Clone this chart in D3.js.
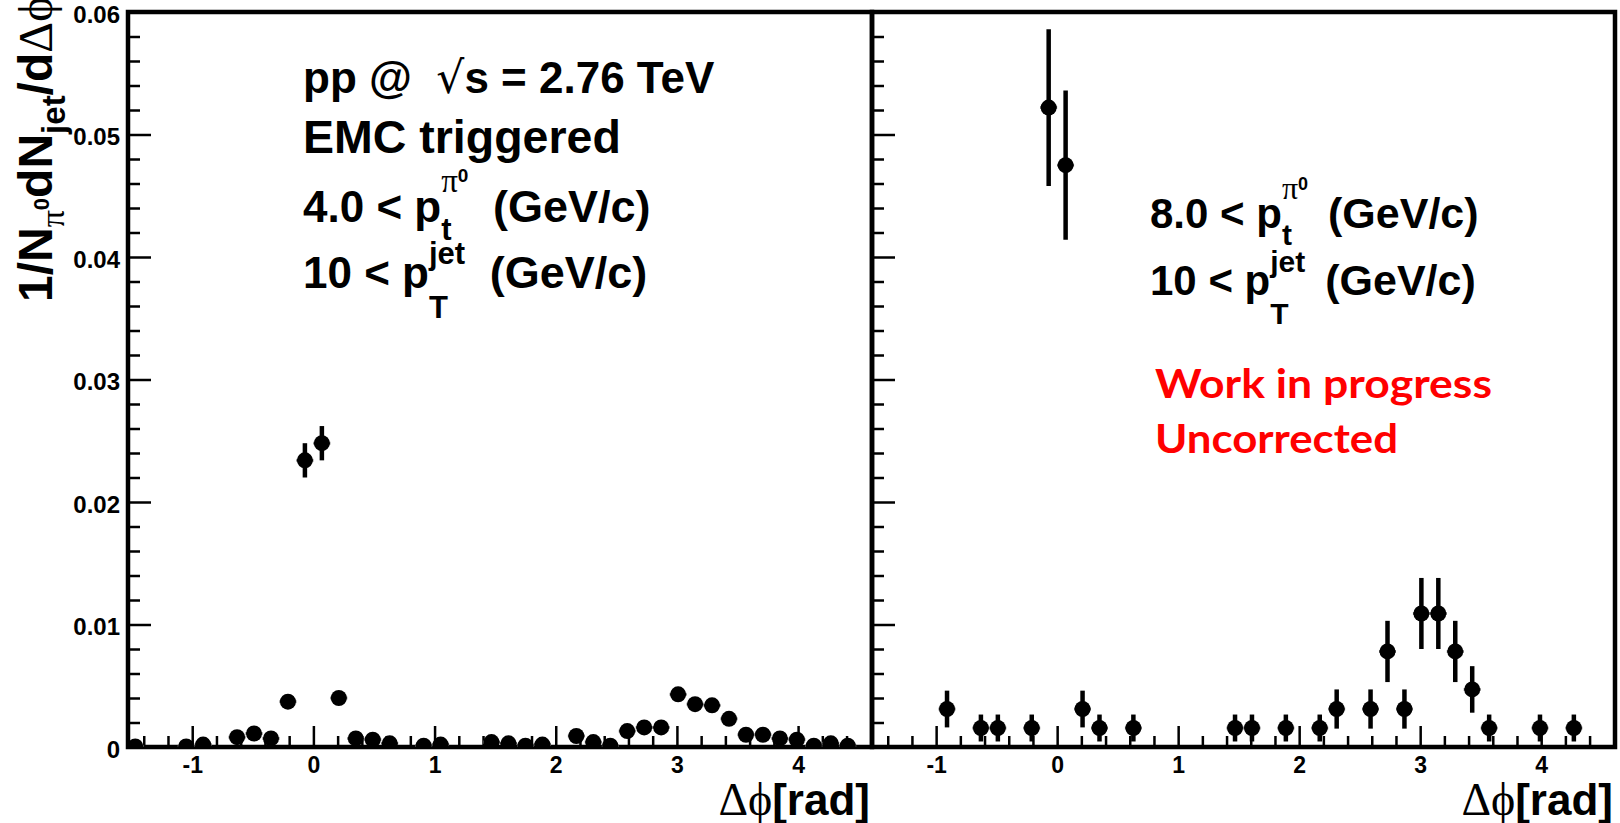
<!DOCTYPE html>
<html>
<head>
<meta charset="utf-8">
<script src="https://cdn.jsdelivr.net/npm/d3@7/dist/d3.min.js"></script>
<style>
  body { margin: 0; background: #fff; }
  svg { display: block; }
</style>
</head>
<body>
<div id="plot"></div>
<script>
// left panel: 4.0 < pt(pi0), EMC triggered
var binLeft = [-1.47, -1.05, -0.91, -0.63, -0.49, -0.35, -0.21, -0.07, 0.07, 0.21, 0.35, 0.49, 0.63,
               0.91, 1.05, 1.47, 1.61, 1.75, 1.89, 2.17, 2.31, 2.45, 2.59, 2.73, 2.87, 3.01, 3.15,
               3.29, 3.43, 3.57, 3.71, 3.85, 3.99, 4.13, 4.27, 4.41];
var valLeft = [0.00005, 0.00005, 0.0002, 0.0008, 0.0011, 0.0007, 0.0037, 0.0234, 0.0248, 0.0040, 0.0007, 0.0006, 0.0003,
               0.0001, 0.0002, 0.0004, 0.0003, 0.0001, 0.0002, 0.0009, 0.0004, 0.0001, 0.0013, 0.0016, 0.0016, 0.0043, 0.0035,
               0.0034, 0.0023, 0.0010, 0.0010, 0.0007, 0.0006, 0.0001, 0.0003, 0.0001];
var errLeft = [0.0001, 0.0001, 0.0002, 0.0003, 0.0004, 0.0003, 0.0004, 0.0014, 0.0014, 0.0004, 0.0003, 0.0003, 0.0002,
               0.0001, 0.0002, 0.0002, 0.0002, 0.0001, 0.0002, 0.0003, 0.0002, 0.0001, 0.0003, 0.0004, 0.0004, 0.0005, 0.0004,
               0.0004, 0.0004, 0.0003, 0.0003, 0.0003, 0.0003, 0.0001, 0.0002, 0.0001];

// right panel: 8.0 < pt(pi0)
var binRight = [-0.91, -0.63, -0.49, -0.21, -0.07, 0.07, 0.21, 0.35, 0.63, 1.47, 1.61, 1.89, 2.17,
                2.31, 2.59, 2.73, 2.87, 3.01, 3.15, 3.29, 3.43, 3.57, 3.99, 4.27];
var valRight = [0.0031, 0.00155, 0.00155, 0.00155, 0.0522, 0.0475, 0.0031, 0.00155, 0.00155, 0.00155, 0.00155, 0.00155, 0.00155,
                0.0031, 0.0031, 0.0078, 0.0031, 0.0109, 0.0109, 0.0078, 0.0047, 0.00155, 0.00155, 0.00155];
var errRight = [0.0015, 0.0011, 0.0011, 0.0011, 0.0064, 0.0061, 0.0015, 0.0011, 0.0011, 0.0011, 0.0011, 0.0011, 0.0011,
                0.0016, 0.0016, 0.0025, 0.0016, 0.0029, 0.0029, 0.0025, 0.0019, 0.0011, 0.0011, 0.0011];

var xTicks = [-1, 0, 1, 2, 3, 4];
var xTickLabels = ["-1", "0", "1", "2", "3", "4"];
var yTicks = [0, 0.01, 0.02, 0.03, 0.04, 0.05, 0.06];
var yTickLabels = ["0", "0.01", "0.02", "0.03", "0.04", "0.05", "0.06"];

var halfBin = 0.0698;
var W = 1620, H = 823;
var frameTop = 12, frameBottom = 747;
var helv = "'Liberation Sans', Arial, Helvetica, sans-serif";
var symb = "'Liberation Serif', 'DejaVu Serif', serif";

var svg = d3.select("#plot").append("svg")
  .attr("width", W)
  .attr("height", H);

var y = d3.scaleLinear().domain([0, 0.06]).range([frameBottom, frameTop]);

// one <text> per line, pieces are tspans placed one after the other
// mark = remember x, stack = start at remembered x (sub under a sup), gap = extra space
function richText(g, x0, y0, parts) {
  var txt = g.append("text").style("white-space", "pre");
  var cx = x0, markX = x0;
  parts.forEach(function(p) {
    if (p.gap) { cx += p.gap; return; }
    var px = p.stack ? markX : cx;
    if (p.mark) markX = px;
    var t = txt.append("tspan")
      .attr("x", px)
      .attr("y", y0 + (p.dy || 0))
      .style("font-family", p.font || helv)
      .style("font-weight", p.weight || "bold")
      .style("font-size", p.size + "px")
      .style("fill", p.color || "#000")
      .text(p.t);
    var w = t.node().getComputedTextLength();
    if (p.stack) cx = Math.max(cx, px + w);
    else cx = px + w;
  });
  return cx - x0;
}

function drawPanel(x0, x1, bins, vals, errs, id, showYLabels) {
  var x = d3.scaleLinear().domain([-1.53, 4.61]).range([x0, x1]);
  var g = svg.append("g");

  svg.append("clipPath").attr("id", id)
    .append("rect")
    .attr("x", x0).attr("y", frameTop)
    .attr("width", x1 - x0).attr("height", frameBottom - frameTop);

  // minor x ticks
  var xMinor = x.ticks(30).filter(function(d) { return Math.abs(d - Math.round(d)) > 1e-6; });
  g.append("g")
    .attr("transform", "translate(0," + frameBottom + ")")
    .call(d3.axisBottom(x).tickValues(xMinor).tickSize(-11).tickFormat(""))
    .call(function(a) { a.select(".domain").remove(); })
    .selectAll("line").style("stroke", "#000").style("stroke-width", 2.5);

  // major x ticks
  var xa = g.append("g")
    .attr("transform", "translate(0," + frameBottom + ")")
    .call(d3.axisBottom(x).tickValues(xTicks).tickSize(-21).tickPadding(10)
      .tickFormat(function(d, i) { return xTickLabels[i]; }))
    .call(function(a) { a.select(".domain").remove(); });
  xa.selectAll("line").style("stroke", "#000").style("stroke-width", 2.5);
  xa.selectAll("text")
    .style("font-family", helv).style("font-weight", "bold")
    .style("font-size", "23px").style("fill", "#000");

  // minor y ticks
  var yMinor = y.ticks(30).filter(function(d) { return Math.abs(d * 100 - Math.round(d * 100)) > 1e-6; });
  g.append("g")
    .attr("transform", "translate(" + x0 + ",0)")
    .call(d3.axisLeft(y).tickValues(yMinor).tickSize(-12).tickFormat(""))
    .call(function(a) { a.select(".domain").remove(); })
    .selectAll("line").style("stroke", "#000").style("stroke-width", 2.5);

  // major y ticks
  var ya = g.append("g")
    .attr("transform", "translate(" + x0 + ",0)")
    .call(d3.axisLeft(y).tickValues(yTicks).tickSize(-23).tickPadding(8)
      .tickFormat(function(d, i) { return showYLabels ? yTickLabels[i] : ""; }))
    .call(function(a) { a.select(".domain").remove(); });
  ya.selectAll("line").style("stroke", "#000").style("stroke-width", 2.5);
  ya.selectAll("text")
    .attr("dy", "0.42em")
    .style("font-family", helv).style("font-weight", "bold")
    .style("font-size", "24px").style("fill", "#000");

  // frame
  g.append("rect")
    .attr("x", x0).attr("y", frameTop)
    .attr("width", x1 - x0).attr("height", frameBottom - frameTop)
    .style("fill", "none").style("stroke", "#000").style("stroke-width", 4.5);

  // points
  var pts = g.append("g").attr("clip-path", "url(#" + id + ")");
  var data = bins.map(function(b, i) { return { x: b, v: vals[i], e: errs[i] }; });

  pts.selectAll("line.xerr").data(data).enter().append("line")
    .attr("class", "xerr")
    .attr("x1", function(d) { return x(d.x - halfBin); })
    .attr("x2", function(d) { return x(d.x + halfBin); })
    .attr("y1", function(d) { return y(d.v); })
    .attr("y2", function(d) { return y(d.v); })
    .style("stroke", "#666").style("stroke-width", 3);

  pts.selectAll("line.yerr").data(data).enter().append("line")
    .attr("class", "yerr")
    .attr("x1", function(d) { return x(d.x); })
    .attr("x2", function(d) { return x(d.x); })
    .attr("y1", function(d) { return y(d.v - d.e); })
    .attr("y2", function(d) { return y(d.v + d.e); })
    .style("stroke", "#000").style("stroke-width", 4.5);

  pts.selectAll("circle").data(data).enter().append("circle")
    .attr("cx", function(d) { return x(d.x); })
    .attr("cy", function(d) { return y(d.v); })
    .attr("r", 8)
    .style("fill", "#000");

  // x title, right aligned at the frame edge
  var tg = svg.append("g");
  var w = richText(tg, 0, 0, [
    { t: "\u0394\u03d5", size: 46, font: symb, weight: "normal" },
    { t: "[rad]", size: 44 }
  ]);
  tg.attr("transform", "translate(" + (x1 - 2 - w) + ",815)");
}

drawPanel(128, 872, binLeft, valLeft, errLeft, "clipL", true);
drawPanel(872, 1615, binRight, valRight, errRight, "clipR", false);

// y title, rotated
var yt = svg.append("g").attr("transform", "translate(52,302) rotate(-90)");
richText(yt, 0, 0, [
  { t: "1/N", size: 48 },
  { t: "\u03c0", size: 34, font: symb, weight: "normal", dy: 12 },
  { t: "0", size: 22, dy: -3 },
  { t: "dN", size: 48 },
  { t: "jet", size: 33, dy: 13 },
  { t: "/d", size: 48 },
  { t: "\u0394\u03d5", size: 48, font: symb, weight: "normal" }
]);

// left panel labels
var la = svg.append("g");
richText(la, 303, 93, [
  { t: "pp @  ", size: 44 },
  { t: "\u221a", size: 44, font: "'DejaVu Sans', sans-serif", weight: "normal" },
  { t: "s = 2.76 TeV", size: 44 }
]);
richText(la, 303, 153, [{ t: "EMC triggered", size: 46.5 }]);
richText(la, 303, 222, [
  { t: "4.0 < p", size: 44 },
  { t: "\u03c0", size: 33, font: symb, weight: "normal", dy: -30, mark: true },
  { t: "0", size: 19, dy: -40 },
  { t: "t", size: 31, dy: 18, stack: true },
  { gap: 12 },
  { t: " (GeV/c)", size: 45 }
]);
richText(la, 303, 288, [
  { t: "10 < p", size: 44 },
  { t: "jet", size: 31, dy: -24, mark: true },
  { t: "T", size: 31, dy: 30, stack: true },
  { gap: 12 },
  { t: " (GeV/c)", size: 45 }
]);

// right panel labels
var ra = svg.append("g");
richText(ra, 1150, 228, [
  { t: "8.0 < p", size: 42 },
  { t: "\u03c0", size: 32, font: symb, weight: "normal", dy: -29, mark: true },
  { t: "0", size: 18, dy: -38 },
  { t: "t", size: 30, dy: 17, stack: true },
  { gap: 8 },
  { t: " (GeV/c)", size: 43 }
]);
richText(ra, 1150, 295, [
  { t: "10 < p", size: 42 },
  { t: "jet", size: 30, dy: -23, mark: true },
  { t: "T", size: 30, dy: 29, stack: true },
  { gap: 8 },
  { t: " (GeV/c)", size: 43 }
]);

ra.append("text")
  .attr("x", 1155).attr("y", 398)
  .attr("textLength", 337).attr("lengthAdjust", "spacingAndGlyphs")
  .style("font-family", "Lato, 'Open Sans', sans-serif").style("font-weight", "bold")
  .style("font-size", "41px").style("fill", "#ff0000")
  .text("Work in progress");
ra.append("text")
  .attr("x", 1155).attr("y", 453)
  .attr("textLength", 243).attr("lengthAdjust", "spacingAndGlyphs")
  .style("font-family", "Lato, 'Open Sans', sans-serif").style("font-weight", "bold")
  .style("font-size", "41px").style("fill", "#ff0000")
  .text("Uncorrected");
</script>
</body>
</html>
